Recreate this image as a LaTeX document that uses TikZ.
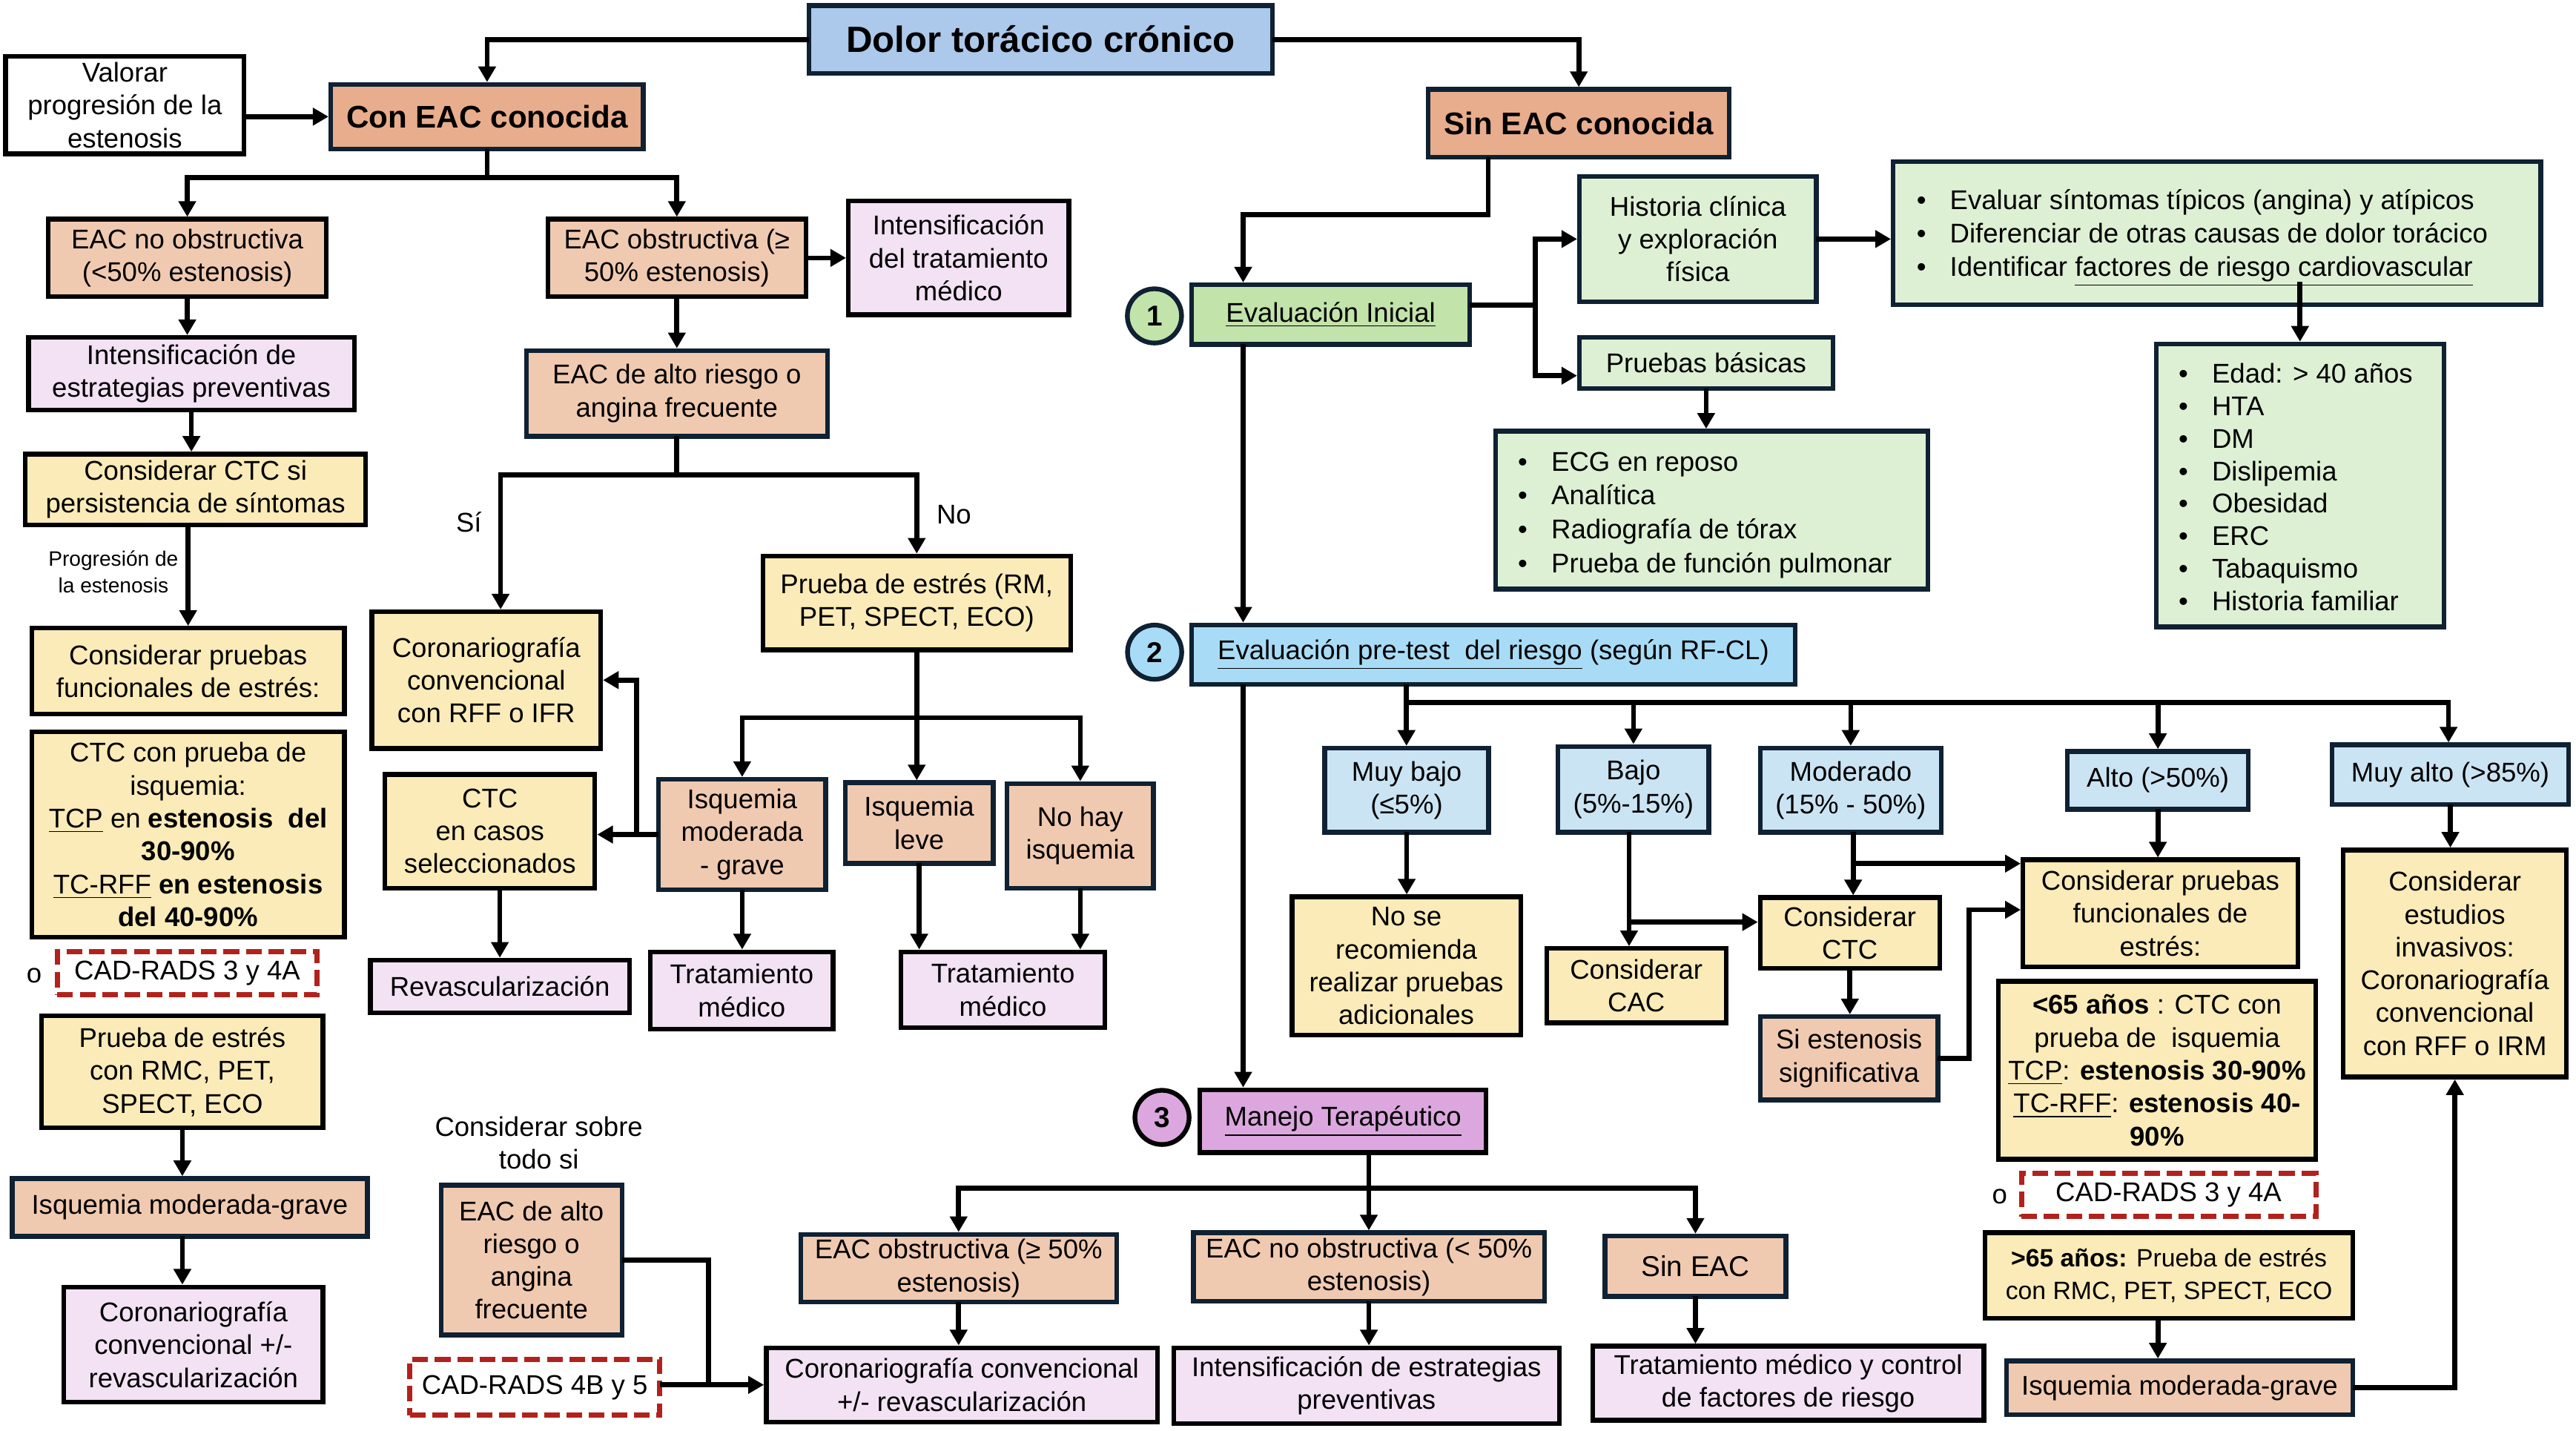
\documentclass[tikz,border=0pt]{standalone}
\usepackage{fontspec}
\setmainfont{Liberation Sans}
\usetikzlibrary{arrows.meta,calc}
\definecolor{cTitle}{RGB}{172,200,234}
\definecolor{cSal}{RGB}{232,173,140}
\definecolor{cSalL}{RGB}{240,202,176}
\definecolor{cPink}{RGB}{242,226,244}
\definecolor{cYel}{RGB}{250,235,184}
\definecolor{cGreL}{RGB}{222,240,212}
\definecolor{cGre}{RGB}{194,227,170}
\definecolor{cBlu}{RGB}{168,220,246}
\definecolor{cBluL}{RGB}{203,228,243}
\definecolor{cOrch}{RGB}{220,167,222}
\definecolor{cNavy}{RGB}{15,33,50}
\definecolor{cRed}{RGB}{178,34,28}
\newcommand\bx[7]{%
  \pgfmathsetmacro\bxw{(#5-#3-2.8)*0.63039}%
  \pgfmathsetmacro\bxh{(#6-#4-2.8)*0.63039}%
  \node[#2, minimum width=\bxw pt, minimum height=\bxh pt] (#1) at ({(#3+#5)/2},{(#4+#6)/2}) {#7};}
\newcommand\blt{\makebox[12.8pt][l]{•}}
\begin{document}
\begin{tikzpicture}[x=0.022156cm, y=-0.022156cm,
  box/.style={draw=black, line width=1.8pt, inner sep=0pt, align=center, font=\fontsize{10.4}{12.6}\selectfont},
  nbox/.style={box, draw=cNavy},
  dbox/.style={box, draw=cRed, dash pattern=on 6pt off 2.6pt, line width=2pt},
  txt/.style={inner sep=0pt, align=center, font=\fontsize{10.4}{12.6}\selectfont},
  lst/.style={inner sep=0pt, align=left, font=\fontsize{10.4}{12.7}\selectfont},
  circ/.style={circle, draw=cNavy, line width=1.8pt, minimum size=20.8pt, inner sep=0pt, font=\fontsize{11}{12}\selectfont\bfseries},
  ln/.style={line width=1.9pt, line cap=rect},
  arr/.style={line width=1.9pt, line cap=rect, -{Triangle[length=6pt,width=6.5pt]}},
]
\fill[white] (0,0) rectangle (1568,871);
\useasboundingbox (0,0) rectangle (1568,871);

% ---------- top ----------
\bx{title}{nbox, fill=cTitle, font=\fontsize{14}{16}\selectfont\bfseries}{491}{2}{776}{46}{Dolor torácico crónico}
\bx{valorar}{box, fill=white}{2}{33}{150}{95}{Valorar\\progresión de la\\estenosis}
\bx{conEAC}{nbox, fill=cSal, font=\fontsize{12}{14}\selectfont\bfseries}{200}{50}{393}{92}{Con EAC conocida}
\bx{sinEAC}{nbox, fill=cSal, font=\fontsize{12}{14}\selectfont\bfseries}{868}{53}{1054}{97}{Sin EAC conocida}

% ---------- left column ----------
\bx{nob}{box, fill=cSalL}{28}{132}{200}{182}{EAC no obstructiva\\(<50\% estenosis)}
\bx{intprev}{box, fill=cPink}{16}{204}{217}{251}{Intensificación de\\estrategias preventivas}
\bx{ctcsi}{box, fill=cYel}{14}{275}{224}{321}{Considerar CTC si\\persistencia de síntomas}
\node[txt, font=\fontsize{8}{10.3}\selectfont] (lblprog) at (69,348) {Progresión de\\la estenosis};
\bx{cpf}{box, fill=cYel}{18}{381}{211}{436}{Considerar pruebas\\funcionales de estrés:}
\bx{ctcisq}{box, fill=cYel}{18}{444}{211}{572}{CTC con prueba de\\isquemia:\\\underline{TCP} en \textbf{estenosis\ \ del}\\\textbf{30-90\%}\\\underline{TC-RFF} \textbf{en estenosis}\\\textbf{del 40-90\%}}
\node[txt] (o1) at (20.8,594) {o};
\bx{cad1}{dbox}{33.5}{578}{194.5}{607}{CAD-RADS 3 y 4A}
\bx{pest}{box, fill=cYel}{24}{617}{198}{688}{Prueba de estrés\\con RMC, PET,\\SPECT, ECO}
\bx{isqL}{nbox, fill=cSalL}{6}{716}{225}{754}{Isquemia moderada-grave}
\bx{corL}{box, fill=cPink}{37.5}{782}{198}{855}{Coronariografía\\convencional +/-\\revascularización}

% ---------- middle-left ----------
\bx{obs}{box, fill=cSalL}{332}{132}{492}{182}{EAC obstructiva (≥\\50\% estenosis)}
\bx{inttrat}{box, fill=cPink}{515}{121}{652}{193}{Intensificación\\del tratamiento\\médico}
\bx{alto}{nbox, fill=cSalL}{319}{212}{505}{267}{EAC de alto riesgo o\\angina frecuente}
\bx{coro}{box, fill=cYel}{225}{371}{367}{457}{Coronariografía\\convencional\\con RFF o IFR}
\bx{ctccasos}{box, fill=cYel}{233}{470}{363.5}{542}{CTC\\en casos\\seleccionados}
\bx{pestm}{box, fill=cYel}{463}{337}{653}{397}{Prueba de estrés (RM,\\PET, SPECT, ECO)}
\bx{isqmod}{nbox, fill=cSalL}{399.5}{473}{504}{543}{Isquemia\\moderada\\- grave}
\bx{isqlev}{nbox, fill=cSalL}{513}{475}{606}{527}{Isquemia\\leve}
\bx{nohay}{nbox, fill=cSalL}{611.6}{475.6}{703.5}{542}{No hay\\isquemia}
\bx{revasc}{box, fill=cPink}{224}{583}{384.5}{618}{Revascularización}
\bx{trat1}{box, fill=cPink}{394.5}{578}{508.5}{628}{Tratamiento\\médico}
\bx{trat2}{box, fill=cPink}{547}{578}{674}{627}{Tratamiento\\médico}
\node[txt] (lsi) at (285.4,318) {Sí};
\node[txt] (lno) at (580.6,313.3) {No};

% ---------- bottom ----------
\node[txt] (consid) at (328,695.6) {Considerar sobre\\todo si};
\bx{alto2}{nbox, fill=cSalL}{267}{720}{380}{814}{EAC de alto\\riesgo o\\angina\\frecuente}
\bx{cad2}{dbox}{248}{826}{403}{863}{CAD-RADS 4B y 5}
\bx{corB}{box, fill=cPink}{465}{819}{706}{867}{Coronariografía convencional\\+/- revascularización}
\bx{obsB}{nbox, fill=cSalL}{486}{750}{681}{794}{EAC obstructiva (≥ 50\%\\estenosis)}
\bx{nobB}{nbox, fill=cSalL}{725}{749}{941.5}{793.5}{EAC no obstructiva (< 50\%\\estenosis)}
\bx{sinB}{nbox, fill=cSalL, font=\fontsize{11}{13}\selectfont}{975.6}{751}{1088.4}{790.6}{Sin EAC}
\bx{intB}{box, fill=cPink}{713}{819}{950.5}{868}{Intensificación de estrategias\\preventivas}
\bx{tratB}{box, fill=cPink}{968}{818}{1209}{866}{Tratamiento médico y control\\de factores de riesgo}
\bx{manejo}{box, fill=cOrch}{729}{662}{906}{703}{\underline{Manejo Terapéutico}}
\node[circ, fill=cOrch, draw=black] (c3) at (707.3,680.2) {3};

% ---------- right top ----------
\node[circ, fill=cGre] (c1) at (702.7,192.3) {1};
\bx{evini}{nbox, fill=cGre}{724}{172}{896}{211}{\underline{Evaluación Inicial}}
\bx{hist}{nbox, fill=cGreL}{960}{106}{1107}{185}{Historia clínica\\y exploración\\física}
\bx{prub}{nbox, fill=cGreL}{960}{204}{1117}{238}{Pruebas básicas}
\bx{ecg}{nbox, fill=cGreL}{909}{261}{1175}{360}{}
\node[lst, anchor=west, font=\fontsize{10.4}{13}\selectfont] (ecgt) at (923.7,313.5) {\blt ECG en reposo\\\blt Analítica\\\blt Radiografía de tórax\\\blt Prueba de función pulmonar};
\bx{evalb}{nbox, fill=cGreL}{1151}{97}{1548}{187}{}
\node[lst, anchor=west] (evalt) at (1166.3,145) {\blt Evaluar síntomas típicos (angina) y atípicos\\\blt Diferenciar de otras causas de dolor torácico\\\blt Identificar \underline{factores de riesgo cardiovascular}};
\bx{risk}{nbox, fill=cGreL}{1311}{208}{1489}{383}{}
\node[lst, anchor=west, font=\fontsize{10.4}{12.5}\selectfont] (riskt) at (1325.8,296.5) {\blt Edad: > 40 años\\\blt HTA\\\blt DM\\\blt Dislipemia\\\blt Obesidad\\\blt ERC\\\blt Tabaquismo\\\blt Historia familiar};

% ---------- pretest ----------
\node[circ, fill=cBlu] (c2) at (702.8,397) {2};
\bx{pre}{nbox, fill=cBlu}{724}{379}{1094}{418}{\underline{Evaluación pre-test\ \ del riesgo} (según RF-CL)}
\bx{mb}{nbox, fill=cBluL}{805}{454}{907.5}{508}{Muy bajo\\(≤5\%)}
\bx{bj}{nbox, fill=cBluL}{947}{453}{1041.5}{508}{Bajo\\(5\%-15\%)}
\bx{md}{nbox, fill=cBluL}{1070}{454}{1183}{508}{Moderado\\(15\% - 50\%)}
\bx{al}{nbox, fill=cBluL}{1257}{456}{1370}{494}{Alto (>50\%)}
\bx{ma}{nbox, fill=cBluL}{1418}{452}{1565}{491}{Muy alto (>85\%)}
\bx{nsr}{box, fill=cYel}{785}{544.5}{927}{631.5}{No se\\recomienda\\realizar pruebas\\adicionales}
\bx{cac}{box, fill=cYel}{940}{576}{1052}{624}{Considerar\\CAC}
\bx{cctc}{box, fill=cYel}{1070}{545}{1182}{591}{Considerar\\CTC}
\bx{siest}{nbox, fill=cSalL}{1070}{617.5}{1181}{671}{Si estenosis\\significativa}
\bx{cpfR}{box, fill=cYel}{1230}{522}{1400}{590}{Considerar pruebas\\funcionales de\\estrés:}
\bx{menor}{box, fill=cYel}{1215}{596}{1411}{707}{\textbf{<65 años} : CTC con\\prueba de\ \ isquemia\\\underline{TCP}: \textbf{estenosis 30-90\%}\\\underline{TC-RFF}: \textbf{estenosis 40-}\\\textbf{90\%}}
\node[txt] (o2) at (1217.2,728.5) {o};
\bx{cad3}{dbox}{1229}{713}{1411}{742}{CAD-RADS 3 y 4A}
\bx{mayor}{box, fill=cYel, font=\fontsize{9.6}{12.6}\selectfont}{1207}{749}{1433.5}{804}{\textbf{>65 años:} Prueba de estrés\\con RMC, PET, SPECT, ECO}
\bx{isqR}{nbox, fill=cSalL}{1220}{827}{1433.5}{862.6}{Isquemia moderada-grave}
\bx{inv}{box, fill=cYel}{1425}{516}{1563.5}{657}{Considerar\\estudios\\invasivos:\\Coronariografía\\convencional\\con RFF o IRM}

% ---------- connectors ----------
\draw[arr] (title.west) -| (conEAC.north);
\draw[arr] (title.east) -| (sinEAC.north);
\draw[arr] (valorar.east |- conEAC.west) -- (conEAC.west);
\coordinate (j1) at (296.5,108.2);
\draw[ln] (conEAC.south) -- (j1);
\draw[arr] (j1) -| (nob.north);
\draw[arr] (j1) -| (obs.north);
\draw[arr] (nob.south) -- (nob.south |- intprev.north);
\draw[arr] (intprev.south) -- (intprev.south |- ctcsi.north);
\draw[arr] (cpf.north |- ctcsi.south) -- (cpf.north);
\draw[arr] (pest.south) -- (pest.south |- isqL.north);
\draw[arr] (isqL.south -| pest.south) -- (corL.north -| pest.south);

\draw[arr] (obs.east) -- (obs.east -| inttrat.west);
\draw[arr] (obs.south) -- (obs.south |- alto.north);
\coordinate (j2) at (411.7,289.1);
\draw[ln] (alto.south) -- (alto.south |- j2);
\draw[arr] (alto.south |- j2) -| ($(coro.north)+(8.7,0)$);
\draw[arr] (alto.south |- j2) -| (pestm.north);
\coordinate (j3) at (557.9,436.9);
\draw[ln] (pestm.south) -- (pestm.south |- j3);
\draw[arr] (pestm.south |- j3) -| (isqmod.north);
\draw[arr] (pestm.south |- j3) -- (pestm.south |- isqlev.north);
\draw[arr] (pestm.south |- j3) -| (nohay.north);
\draw[arr] (isqmod.west) -- (isqmod.west -| ctccasos.east);
\coordinate (j4) at (387.5,508);
\draw[arr] (isqmod.west -| j4) |- (coro.east);
\draw[arr] (revasc.north |- ctccasos.south) -- (revasc.north);
\draw[arr] (isqmod.south) -- (isqmod.south |- trat1.north);
\draw[arr] (isqlev.south) -- (isqlev.south |- trat2.north);
\draw[arr] (nohay.south) -- (nohay.south |- trat2.north);

\coordinate (j5) at (431.2,843);
\draw[ln] (alto2.east) -| (j5);
\draw[arr] (cad2.east |- corB.west) -- (corB.west);

\coordinate (hb) at (833.2,723.2);
\draw[ln] (hb |- manejo.south) -- (hb);
\draw[arr] (hb) -| (obsB.north);
\draw[arr] (hb) -| (sinB.north);
\draw[arr] (hb) -- (hb |- nobB.north);
\draw[arr] (obsB.south) -- (obsB.south |- corB.north);
\draw[arr] (nobB.south) -- (nobB.south |- intB.north);
\draw[arr] (sinB.south) -- (sinB.south |- tratB.north);

\coordinate (s1) at (905.9,130.6);
\coordinate (s2) at (756.7,130.6);
\draw[arr] (sinEAC.south -| s1) -- (s1) -- (s2) -- (s2 |- evini.north);
\draw[arr] (s2 |- evini.south) -- (s2 |- pre.north);
\draw[arr] (s2 |- pre.south) -- (s2 |- manejo.north);
\coordinate (e1) at (934.6,185.8);
\draw[ln] (evini.east |- e1) -- (e1);
\draw[arr] (e1) |- (hist.west);
\draw[arr] (e1) |- ($(prub.west)+(0,7.7)$);
\draw[arr] (hist.east) -- (hist.east -| evalb.west);
\draw[arr] (prub.south) -- (prub.south |- ecg.north);
\draw[arr] ($(evalb.south -| risk.north)+(0,-14)$) -- (risk.north);

\coordinate (p1) at (856.1,427.5);
\coordinate (p2) at (1490.4,427.5);
\draw[ln] (pre.south -| p1) -- (p1) -- (p2);
\draw[arr] (p1) -- (p1 |- mb.north);
\draw[arr] (p1 -| bj.north) -- (bj.north);
\draw[arr] (p1 -| md.north) -- (md.north);
\draw[arr] (p1 -| al.north) -- (al.north);
\draw[arr] (p2) -- (p2 |- ma.north);
\draw[arr] (mb.south) -- (mb.south |- nsr.north);
\coordinate (b1) at (991.6,561.3);
\draw[arr] (bj.south -| b1) -- (b1 |- cac.north);
\draw[arr] (b1) -- (b1 -| cctc.west);
\coordinate (m1) at (1128,525.7);
\draw[arr] (md.south -| m1) -- (m1 |- cctc.north);
\draw[arr] (m1) -- (m1 -| cpfR.west);
\draw[arr] (cctc.south) -- (cctc.south |- siest.north);
\coordinate (s3) at (1198.6,553.8);
\draw[arr] (siest.east) -| (s3) -- (s3 -| cpfR.west);
\draw[arr] (al.south) -- (al.south |- cpfR.north);
\draw[arr] (ma.south) -- (ma.south |- inv.north);
\draw[arr] (mayor.south -| al.south) -- (isqR.north -| al.south);
\draw[arr] (isqR.east) -| (inv.south);
\end{tikzpicture}
\end{document}
